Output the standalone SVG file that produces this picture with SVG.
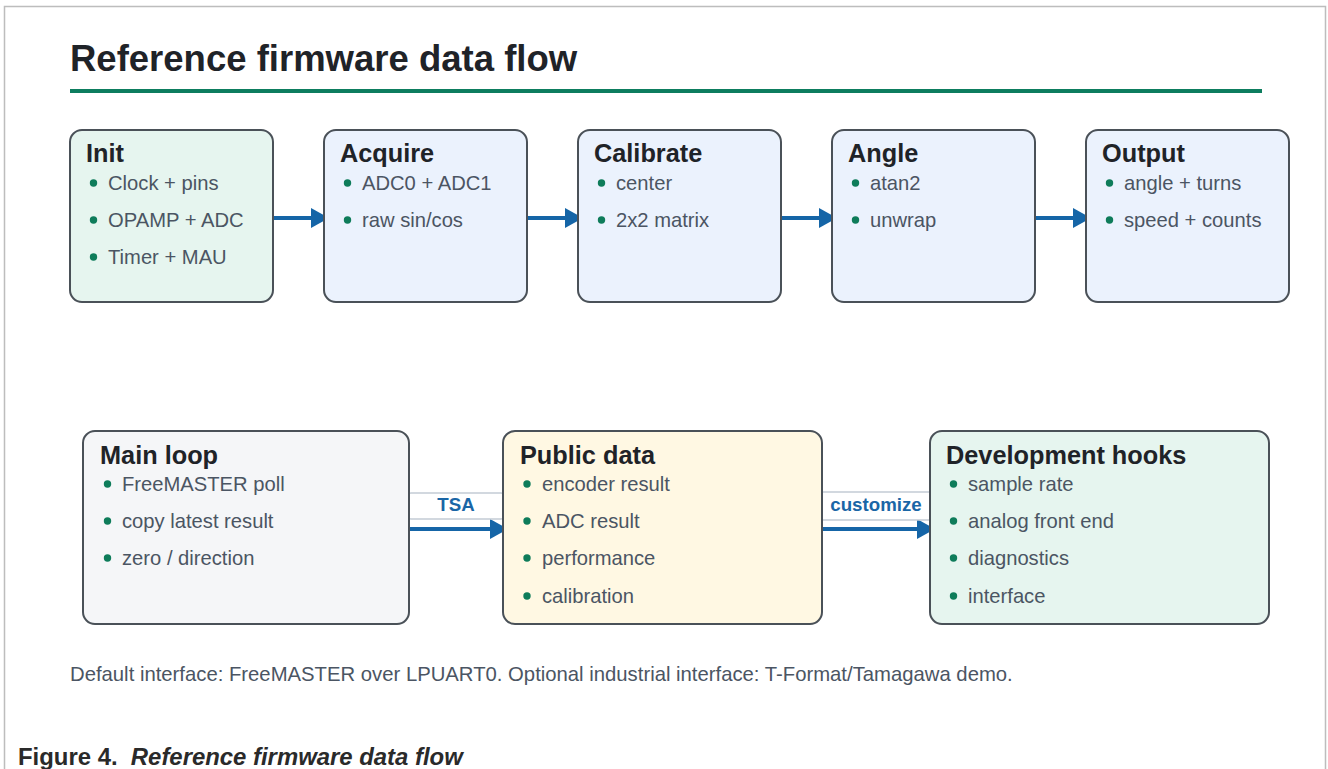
<svg xmlns="http://www.w3.org/2000/svg" width="1328" height="769" viewBox="0 0 1328 769">
<defs>
<style>
.frame{fill:none;stroke:#bdbdbd;stroke-width:1.5}
.box{stroke:#4a5158;stroke-width:2}
.green{fill:#e6f5ef}
.blue{fill:#ebf2fd}
.gray{fill:#f5f6f8}
.yellow{fill:#fff8e3}
.ttl{font-family:"Liberation Sans",Arial,sans-serif;font-weight:bold;font-size:25.3px;fill:#1f2328}
.txt{font-family:"Liberation Sans",Arial,sans-serif;font-size:20.2px;fill:#4b5563}
.dot{fill:#0e7c5a}
.conn{stroke:#1565a7;stroke-width:4;fill:none}
.lbl{fill:#ffffff;stroke:#c3ccd5;stroke-width:1.5}
.lbltxt{font-family:"Liberation Sans",Arial,sans-serif;font-weight:bold;font-size:18.7px;fill:#1a66a6;text-anchor:middle}
</style>
<marker id="ah" viewBox="0 0 18 20" refX="18" refY="10" markerWidth="18" markerHeight="20" markerUnits="userSpaceOnUse" orient="auto">
<path d="M0,0 L18,10 L0,20 Z" fill="#1565a7"/>
</marker>
</defs>
<rect width="1328" height="769" fill="#ffffff"/>
<path class="frame" d="M4.5,775 L4.5,6.5 L1325.5,6.5 L1325.5,775"/>
<text x="70" y="71" font-family="Liberation Sans,Arial,sans-serif" font-weight="bold" font-size="36.5px" fill="#1f2328">Reference firmware data flow</text>
<rect x="70" y="89" width="1192" height="4" fill="#0d7d5f"/>

<g id="connectors">
<line class="conn" x1="274" y1="218" x2="329" y2="218" marker-end="url(#ah)"/>
<line class="conn" x1="528" y1="218" x2="583" y2="218" marker-end="url(#ah)"/>
<line class="conn" x1="782" y1="218" x2="837" y2="218" marker-end="url(#ah)"/>
<line class="conn" x1="1036" y1="218" x2="1091" y2="218" marker-end="url(#ah)"/>
<line class="conn" x1="410" y1="529" x2="508" y2="529" marker-end="url(#ah)"/>
<line class="conn" x1="823" y1="529" x2="935" y2="529" marker-end="url(#ah)"/>
<rect class="lbl" x="406" y="493" width="100" height="26" rx="5"/>
<text class="lbltxt" x="456" y="511">TSA</text>
<rect class="lbl" x="818" y="492" width="116" height="28" rx="5"/>
<text class="lbltxt" x="876" y="511">customize</text>
</g>

<g id="init">
<rect class="box green" x="70" y="130" width="203" height="172" rx="12"/>
<text class="ttl" x="86" y="162">Init</text>
<circle class="dot" cx="93.5" cy="183" r="3.7"/><text class="txt" x="108" y="190">Clock + pins</text>
<circle class="dot" cx="93.5" cy="220" r="3.7"/><text class="txt" x="108" y="227">OPAMP + ADC</text>
<circle class="dot" cx="93.5" cy="257" r="3.7"/><text class="txt" x="108" y="264">Timer + MAU</text>
</g>

<g id="acquire">
<rect class="box blue" x="324" y="130" width="203" height="172" rx="12"/>
<text class="ttl" x="340" y="162">Acquire</text>
<circle class="dot" cx="347.5" cy="183" r="3.7"/><text class="txt" x="362" y="190">ADC0 + ADC1</text>
<circle class="dot" cx="347.5" cy="220" r="3.7"/><text class="txt" x="362" y="227">raw sin/cos</text>
</g>

<g id="calibrate">
<rect class="box blue" x="578" y="130" width="203" height="172" rx="12"/>
<text class="ttl" x="594" y="162">Calibrate</text>
<circle class="dot" cx="601.5" cy="183" r="3.7"/><text class="txt" x="616" y="190">center</text>
<circle class="dot" cx="601.5" cy="220" r="3.7"/><text class="txt" x="616" y="227">2x2 matrix</text>
</g>

<g id="angle">
<rect class="box blue" x="832" y="130" width="203" height="172" rx="12"/>
<text class="ttl" x="848" y="162">Angle</text>
<circle class="dot" cx="855.5" cy="183" r="3.7"/><text class="txt" x="870" y="190">atan2</text>
<circle class="dot" cx="855.5" cy="220" r="3.7"/><text class="txt" x="870" y="227">unwrap</text>
</g>

<g id="output">
<rect class="box blue" x="1086" y="130" width="203" height="172" rx="12"/>
<text class="ttl" x="1102" y="162">Output</text>
<circle class="dot" cx="1109.5" cy="183" r="3.7"/><text class="txt" x="1124" y="190">angle + turns</text>
<circle class="dot" cx="1109.5" cy="220" r="3.7"/><text class="txt" x="1124" y="227">speed + counts</text>
</g>

<g id="main-loop">
<rect class="box gray" x="83" y="431" width="326" height="193" rx="12"/>
<text class="ttl" x="100" y="464">Main loop</text>
<circle class="dot" cx="107.5" cy="484" r="3.7"/><text class="txt" x="122" y="491">FreeMASTER poll</text>
<circle class="dot" cx="107.5" cy="521" r="3.7"/><text class="txt" x="122" y="528">copy latest result</text>
<circle class="dot" cx="107.5" cy="558" r="3.7"/><text class="txt" x="122" y="565">zero / direction</text>
</g>

<g id="public-data">
<rect class="box yellow" x="503" y="431" width="319" height="193" rx="12"/>
<text class="ttl" x="520" y="464">Public data</text>
<circle class="dot" cx="527" cy="484" r="3.7"/><text class="txt" x="542" y="491">encoder result</text>
<circle class="dot" cx="527" cy="521" r="3.7"/><text class="txt" x="542" y="528">ADC result</text>
<circle class="dot" cx="527" cy="558" r="3.7"/><text class="txt" x="542" y="565">performance</text>
<circle class="dot" cx="527" cy="596" r="3.7"/><text class="txt" x="542" y="603">calibration</text>
</g>

<g id="development-hooks">
<rect class="box green" x="930" y="431" width="339" height="193" rx="12"/>
<text class="ttl" x="946" y="464">Development hooks</text>
<circle class="dot" cx="953.5" cy="484" r="3.7"/><text class="txt" x="968" y="491">sample rate</text>
<circle class="dot" cx="953.5" cy="521" r="3.7"/><text class="txt" x="968" y="528">analog front end</text>
<circle class="dot" cx="953.5" cy="558" r="3.7"/><text class="txt" x="968" y="565">diagnostics</text>
<circle class="dot" cx="953.5" cy="596" r="3.7"/><text class="txt" x="968" y="603">interface</text>
</g>

<text x="70" y="681" font-family="Liberation Sans,Arial,sans-serif" font-size="20.3px" fill="#4b5563">Default interface: FreeMASTER over LPUART0. Optional industrial interface: T-Format/Tamagawa demo.</text>
<text x="18" y="765" font-family="Liberation Sans,Arial,sans-serif" font-weight="bold" font-size="23.9px" fill="#2a2a2a" xml:space="preserve">Figure 4.  <tspan font-style="italic">Reference firmware data flow</tspan></text>
</svg>
